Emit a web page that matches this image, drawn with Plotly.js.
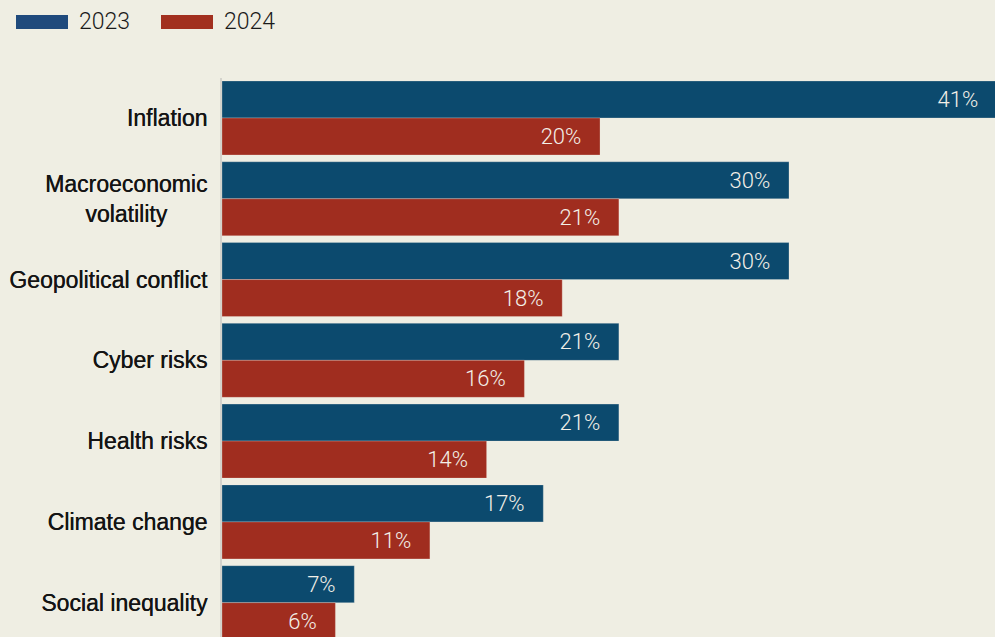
<!DOCTYPE html>
<html>
<head>
<meta charset="utf-8">
<script src="https://cdn.plot.ly/plotly-3.0.1.min.js"></script>
<style>
html,body{margin:0;padding:0;background:#efeee3;}
#chart{width:995px;height:637px;}
</style>
</head>
<body>
<div id="chart"></div>
<script>
// ---- data ----
var categories = ["Inflation", "Macroeconomic<br>volatility", "Geopolitical conflict", "Cyber risks", "Health risks", "Climate change", "Social inequality"];
var seriesNames = ["2023", "2024"];
var values2023 = [41, 30, 30, 21, 21, 17, 7];
var values2024 = [20, 21, 18, 16, 14, 11, 6];

// ---- styles ----
var bg = "#efeee3";
var barColors = ["#0c4a6e", "#a02d1f"];
var legendColors = ["#1f4a7c", "#a2301f"];
var labelFont = {family: "Roboto, 'Liberation Sans', Arial, sans-serif", size: 22, color: "#f3f0e8", weight: 300};
var tickFont = {family: "'Liberation Sans', Arial, sans-serif", size: 23, color: "#141414", shadow: "0.35px 0 0 #141414"};

// tick text: visually centre the two-line label
var tickText = categories.map(function (c) {
  return c.replace("<br>volatility", "<br>volatility\u2002\u2002\u2002\u2005");
});

function barTrace(name, vals, color) {
  return {
    type: "bar",
    orientation: "h",
    name: name,
    y: categories,
    x: vals,
    marker: {color: color, line: {color: "rgba(239,238,227,0.45)", width: 0.6}},
    texttemplate: "%{x}%\u2002\u2009",
    textposition: "inside",
    insidetextanchor: "end",
    constraintext: "none",
    textangle: 0,
    textfont: labelFont,
    hoverinfo: "skip",
    showlegend: false
  };
}

var data = [
  barTrace(seriesNames[0], values2023, barColors[0]),
  barTrace(seriesNames[1], values2024, barColors[1])
];

// legend drawn with pixel-sized shapes + annotations
var legendShapes = [];
var legendAnn = [];
var legendX = [16, 161];
seriesNames.forEach(function (n, i) {
  legendShapes.push({
    type: "rect", xref: "paper", yref: "paper",
    xsizemode: "pixel", ysizemode: "pixel",
    xanchor: 0, yanchor: 1,
    x0: legendX[i] - 222, x1: legendX[i] + 52 - 222,
    y0: 78 - 15, y1: 78 - 29,
    fillcolor: legendColors[i], line: {width: 0}
  });
  legendAnn.push({
    xref: "paper", yref: "paper", x: 0, y: 1,
    xanchor: "left", yanchor: "middle",
    xshift: legendX[i] + 61 - 222, yshift: 78 - 21,
    text: n, showarrow: false,
    font: {family: "Roboto, 'Liberation Sans', Arial, sans-serif", size: 23, color: "#1a1a1a", weight: 300}
  });
});

var layout = {
  width: 995,
  height: 637,
  paper_bgcolor: bg,
  plot_bgcolor: bg,
  margin: {l: 222, r: 0, t: 78, b: 0, pad: 0},
  barmode: "group",
  bargap: 0.084,
  bargroupgap: 0,
  showlegend: false,
  xaxis: {
    range: [0, 40.9],
    showgrid: false, zeroline: false, showticklabels: false, showline: false, ticks: ""
  },
  yaxis: {
    type: "category",
    categoryorder: "array",
    categoryarray: categories,
    tickvals: categories,
    ticktext: tickText,
    range: [6.425, -0.495],
    showgrid: false, zeroline: false,
    showline: true, linecolor: "#d4d3cc", linewidth: 2,
    ticks: "", ticklabelstandoff: 8,
    tickfont: tickFont
  },
  shapes: legendShapes,
  annotations: legendAnn
};

Plotly.newPlot("chart", data, layout, {staticPlot: true, displayModeBar: false});
</script>
</body>
</html>
